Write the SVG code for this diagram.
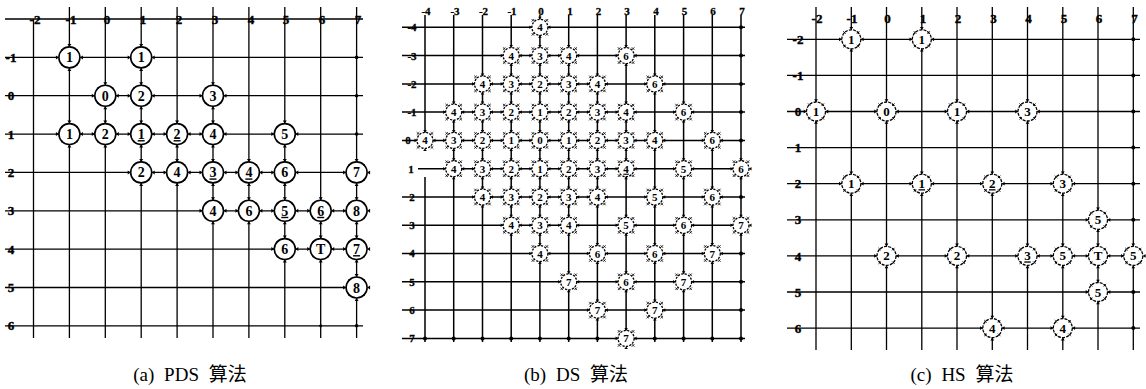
<svg xmlns="http://www.w3.org/2000/svg" width="1146" height="389" viewBox="0 0 1146 389">
<style>
.g{stroke:#000;stroke-width:1.3;fill:none}
.gb{stroke:#000;stroke-width:1.5;fill:none}
.dot{fill:#000}
.la{font-family:"Liberation Serif",serif;font-weight:bold;font-size:13px;text-anchor:middle;fill:#000;stroke:#000;stroke-width:0.4}
.lb{font-family:"Liberation Serif",serif;font-weight:bold;font-size:11px;text-anchor:middle;fill:#000;stroke:#000;stroke-width:0.3}
.ta{font-family:"Liberation Serif",serif;font-weight:bold;font-size:14px;text-anchor:middle;fill:#000}
.tb{font-family:"Liberation Serif",serif;font-weight:bold;font-size:11px;text-anchor:middle;fill:#000}
.tc{font-family:"Liberation Serif",serif;font-weight:bold;font-size:13px;text-anchor:middle;fill:#000}
.u{text-decoration:underline}
.cap{font-family:"Liberation Serif","Noto Sans CJK SC",serif;font-size:19px;fill:#000;text-anchor:middle;word-spacing:5px}
</style>
<defs>
<g id="na">
<circle r="10.5" fill="#fff" stroke="#000" stroke-width="1.6"/>
<path d="M-13.5,-2L-10.5,0L-13.5,2ZM13.5,-2L10.5,0L13.5,2ZM-2,-13.5L0,-10.5L2,-13.5ZM-2,13.5L0,10.5L2,13.5Z" fill="#000"/>
<circle cx="7.4" cy="7.4" r="1" fill="#000"/><circle cx="-7.4" cy="7.4" r="1" fill="#000"/><circle cx="7.4" cy="-7.4" r="1" fill="#000"/><circle cx="-7.4" cy="-7.4" r="1" fill="#000"/>
</g>
<g id="nb">
<circle r="8" fill="#fff" stroke="#000" stroke-width="1.3" stroke-dasharray="2.2 1.3"/>
<path d="M-10.5,-1.8L-8,0L-10.5,1.8ZM10.5,-1.8L8,0L10.5,1.8ZM-1.8,-10.5L0,-8L1.8,-10.5ZM-1.8,10.5L0,8L1.8,10.5Z" fill="#000"/>
<path d="M5.7,5.7l2.6,2.6M8.3,5.7l-2.6,2.6M-5.7,5.7l-2.6,2.6M-8.3,5.7l2.6,2.6M5.7,-5.7l2.6,-2.6M8.3,-5.7l-2.6,-2.6M-5.7,-5.7l-2.6,-2.6M-8.3,-5.7l2.6,-2.6" stroke="#000" stroke-width="0.8"/>
</g>
<g id="nc">
<circle r="9.5" fill="#fff" stroke="#000" stroke-width="1.3" stroke-dasharray="3 1.2"/>
<path d="M-12.3,-1.9L-9.5,0L-12.3,1.9ZM12.3,-1.9L9.5,0L12.3,1.9ZM-1.9,-12.3L0,-9.5L1.9,-12.3ZM-1.9,12.3L0,9.5L1.9,12.3Z" fill="#000"/>
<path d="M5.5,5.5l2.6,2.6M8.1,5.5l-2.6,2.6M-5.5,5.5l-2.6,2.6M-8.1,5.5l2.6,2.6M5.5,-5.5l2.6,-2.6M8.1,-5.5l-2.6,-2.6M-5.5,-5.5l-2.6,-2.6M-8.1,-5.5l2.6,-2.6" stroke="#000" stroke-width="0.8"/>
</g>
</defs>
<rect width="1146" height="389" fill="#fff"/>

<g id="connectors">
<path class="g" d="M5,19H363M5,57.4H363M5,95.7H363M5,134.1H363M5,172.4H363M5,210.8H363M5,249.1H363M5,287.5H363M5,325.8H363
M33.5,19V338M69.4,7V338M105.3,7V338M141.2,7V338M177.1,7V338M213,7V338M248.9,7V338M284.8,7V338M320.7,7V338M356.6,7V338"/>
<g class="dot"><circle cx="356.6" cy="57.4" r="1.8"/><circle cx="356.6" cy="95.7" r="1.8"/><circle cx="356.6" cy="134.1" r="1.8"/><circle cx="356.6" cy="325.8" r="1.8"/><circle cx="320.7" cy="325.8" r="1.5"/></g>
<path class="gb" d="M402,27.3H745M402,55.6H745M402,83.9H745M402,112.1H745M402,140.4H745M418,168.7H745M402,197H745M402,225.3H745M402,253.5H745M402,281.8H745M402,310.1H745M402,338.4H745
M425,15V140.4M425,177V342M453.7,15V342M482.5,15V342M511.2,15V342M539.9,15V342M568.7,15V342M597.4,15V342M626.1,15V342M654.8,15V342M683.6,15V342M712.3,15V342M741,15V342"/>
<g class="dot"><circle cx="741" cy="27.3" r="2"/><circle cx="741" cy="55.6" r="2"/><circle cx="741" cy="83.9" r="2"/><circle cx="741" cy="112.1" r="2"/><circle cx="741" cy="140.4" r="2"/><circle cx="741" cy="197" r="2"/><circle cx="741" cy="253.5" r="2"/><circle cx="741" cy="281.8" r="2"/><circle cx="741" cy="310.1" r="2"/><circle cx="741" cy="338.4" r="2"/>
<circle cx="425" cy="338.4" r="2"/><circle cx="453.7" cy="338.4" r="2"/><circle cx="482.5" cy="338.4" r="2"/><circle cx="511.2" cy="338.4" r="2"/><circle cx="539.9" cy="338.4" r="2"/><circle cx="568.7" cy="338.4" r="2"/><circle cx="597.4" cy="338.4" r="2"/><circle cx="654.8" cy="338.4" r="2"/><circle cx="683.6" cy="338.4" r="2"/><circle cx="712.3" cy="338.4" r="2"/></g>
<path class="g" d="M787,39.3H1140M787,75.4H1140M787,111.5H1140M787,147.6H1140M787,183.7H1140M787,219.8H1140M787,255.9H1140M787,292H1140M787,328.1H1140
M816,7V350M851.3,7V350M886.5,7V350M921.8,7V350M957,7V350M992.3,7V350M1027.5,7V350M1062.8,7V350M1098,7V350M1133.3,7V350"/>
<g class="dot"><circle cx="1133.3" cy="39.3" r="2"/><circle cx="1133.3" cy="75.4" r="2"/><circle cx="1133.3" cy="111.5" r="2"/><circle cx="1133.3" cy="147.6" r="2"/><circle cx="1133.3" cy="183.7" r="2"/><circle cx="1133.3" cy="219.8" r="2"/><circle cx="1133.3" cy="292" r="2"/><circle cx="1133.3" cy="328.1" r="2"/></g>
</g>

<g id="axis-labels">
<text class="la" x="35" y="24">-2</text><text class="la" x="71" y="24">-1</text><text class="la" x="107" y="24">0</text><text class="la" x="143" y="24">1</text><text class="la" x="179" y="24">2</text><text class="la" x="215" y="24">3</text><text class="la" x="251" y="24">4</text><text class="la" x="286" y="24">5</text><text class="la" x="322" y="24">6</text><text class="la" x="358" y="24">7</text>
<text class="la" x="11" y="62">-1</text><text class="la" x="11" y="100.3">0</text><text class="la" x="11" y="138.7">1</text><text class="la" x="11" y="177">2</text><text class="la" x="11" y="215.4">3</text><text class="la" x="11" y="253.7">4</text><text class="la" x="11" y="292.1">5</text><text class="la" x="11" y="330.4">6</text>
<text class="lb" x="426" y="15">-4</text><text class="lb" x="455" y="15">-3</text><text class="lb" x="483.5" y="15">-2</text><text class="lb" x="512" y="15">-1</text><text class="lb" x="541" y="15">0</text><text class="lb" x="570" y="15">1</text><text class="lb" x="598.5" y="15">2</text><text class="lb" x="627" y="15">3</text><text class="lb" x="656" y="15">4</text><text class="lb" x="684.5" y="15">5</text><text class="lb" x="713" y="15">6</text><text class="lb" x="742" y="15">7</text>
<text class="lb" x="412" y="31.2">-4</text><text class="lb" x="412" y="59.5">-3</text><text class="lb" x="412" y="87.8">-2</text><text class="lb" x="412" y="116">-1</text><text class="lb" x="408" y="144.3">0</text><text class="lb" x="411" y="172.6">1</text><text class="lb" x="412" y="200.9">2</text><text class="lb" x="412" y="229.2">3</text><text class="lb" x="412" y="257.4">4</text><text class="lb" x="412" y="285.7">5</text><text class="lb" x="412" y="314">6</text><text class="lb" x="412" y="342.3">7</text>
<text class="la" x="817" y="23">-2</text><text class="la" x="852" y="23">-1</text><text class="la" x="887.5" y="23">0</text><text class="la" x="923" y="23">1</text><text class="la" x="958" y="23">2</text><text class="la" x="993.5" y="23">3</text><text class="la" x="1028.5" y="23">4</text><text class="la" x="1064" y="23">5</text><text class="la" x="1099" y="23">6</text><text class="la" x="1134.5" y="23">7</text>
<text class="la" x="798" y="43.9">-2</text><text class="la" x="798" y="80">-1</text><text class="la" x="798" y="116.1">0</text><text class="la" x="798" y="152.2">1</text><text class="la" x="798" y="188.3">2</text><text class="la" x="798" y="224.4">3</text><text class="la" x="798" y="260.5">4</text><text class="la" x="798" y="296.6">5</text><text class="la" x="798" y="332.7">6</text>
</g>

<g id="a1"><use href="#na" x="69.4" y="57.4"/><text class="ta" x="69.4" y="62.4">1</text></g>
<g id="a2"><use href="#na" x="141.2" y="57.4"/><text class="ta" x="141.2" y="62.4">1</text></g>
<g id="a3"><use href="#na" x="105.3" y="95.7"/><text class="ta" x="105.3" y="100.7">0</text></g>
<g id="a4"><use href="#na" x="141.2" y="95.7"/><text class="ta" x="141.2" y="100.7">2</text></g>
<g id="a5"><use href="#na" x="213" y="95.7"/><text class="ta" x="213" y="100.7">3</text></g>
<g id="a6"><use href="#na" x="69.4" y="134.1"/><text class="ta" x="69.4" y="139.1">1</text></g>
<g id="a7"><use href="#na" x="105.3" y="134.1"/><text class="ta" x="105.3" y="139.1">2</text></g>
<g id="a8"><use href="#na" x="141.2" y="134.1"/><text class="ta u" x="141.2" y="139.1">1</text></g>
<g id="a9"><use href="#na" x="177.1" y="134.1"/><text class="ta u" x="177.1" y="139.1">2</text></g>
<g id="a10"><use href="#na" x="213" y="134.1"/><text class="ta" x="213" y="139.1">4</text></g>
<g id="a11"><use href="#na" x="284.8" y="134.1"/><text class="ta" x="284.8" y="139.1">5</text></g>
<g id="a12"><use href="#na" x="141.2" y="172.4"/><text class="ta" x="141.2" y="177.4">2</text></g>
<g id="a13"><use href="#na" x="177.1" y="172.4"/><text class="ta" x="177.1" y="177.4">4</text></g>
<g id="a14"><use href="#na" x="213" y="172.4"/><text class="ta u" x="213" y="177.4">3</text></g>
<g id="a15"><use href="#na" x="248.9" y="172.4"/><text class="ta u" x="248.9" y="177.4">4</text></g>
<g id="a16"><use href="#na" x="284.8" y="172.4"/><text class="ta" x="284.8" y="177.4">6</text></g>
<g id="a17"><use href="#na" x="356.6" y="172.4"/><text class="ta" x="356.6" y="177.4">7</text></g>
<g id="a18"><use href="#na" x="213" y="210.8"/><text class="ta" x="213" y="215.8">4</text></g>
<g id="a19"><use href="#na" x="248.9" y="210.8"/><text class="ta" x="248.9" y="215.8">6</text></g>
<g id="a20"><use href="#na" x="284.8" y="210.8"/><text class="ta u" x="284.8" y="215.8">5</text></g>
<g id="a21"><use href="#na" x="320.7" y="210.8"/><text class="ta u" x="320.7" y="215.8">6</text></g>
<g id="a22"><use href="#na" x="356.6" y="210.8"/><text class="ta" x="356.6" y="215.8">8</text></g>
<g id="a23"><use href="#na" x="284.8" y="249.1"/><text class="ta" x="284.8" y="254.1">6</text></g>
<g id="a24"><use href="#na" x="320.7" y="249.1"/><text class="ta" x="320.7" y="254.1">T</text></g>
<g id="a25"><use href="#na" x="356.6" y="249.1"/><text class="ta u" x="356.6" y="254.1">7</text></g>
<g id="a26"><use href="#na" x="356.6" y="287.5"/><text class="ta" x="356.6" y="292.5">8</text></g>

<g id="b1"><use href="#nb" x="539.9" y="27.3"/><text class="tb" x="539.9" y="31.3">4</text></g>
<g id="b2"><use href="#nb" x="511.2" y="55.6"/><text class="tb" x="511.2" y="59.6">4</text></g>
<g id="b3"><use href="#nb" x="539.9" y="55.6"/><text class="tb" x="539.9" y="59.6">3</text></g>
<g id="b4"><use href="#nb" x="568.7" y="55.6"/><text class="tb" x="568.7" y="59.6">4</text></g>
<g id="b5"><use href="#nb" x="626.1" y="55.6"/><text class="tb" x="626.1" y="59.6">6</text></g>
<g id="b6"><use href="#nb" x="482.5" y="83.9"/><text class="tb" x="482.5" y="87.9">4</text></g>
<g id="b7"><use href="#nb" x="511.2" y="83.9"/><text class="tb" x="511.2" y="87.9">3</text></g>
<g id="b8"><use href="#nb" x="539.9" y="83.9"/><text class="tb" x="539.9" y="87.9">2</text></g>
<g id="b9"><use href="#nb" x="568.7" y="83.9"/><text class="tb" x="568.7" y="87.9">3</text></g>
<g id="b10"><use href="#nb" x="597.4" y="83.9"/><text class="tb" x="597.4" y="87.9">4</text></g>
<g id="b11"><use href="#nb" x="654.8" y="83.9"/><text class="tb" x="654.8" y="87.9">6</text></g>
<g id="b12"><use href="#nb" x="453.7" y="112.1"/><text class="tb" x="453.7" y="116.1">4</text></g>
<g id="b13"><use href="#nb" x="482.5" y="112.1"/><text class="tb" x="482.5" y="116.1">3</text></g>
<g id="b14"><use href="#nb" x="511.2" y="112.1"/><text class="tb" x="511.2" y="116.1">2</text></g>
<g id="b15"><use href="#nb" x="539.9" y="112.1"/><text class="tb" x="539.9" y="116.1">1</text></g>
<g id="b16"><use href="#nb" x="568.7" y="112.1"/><text class="tb" x="568.7" y="116.1">2</text></g>
<g id="b17"><use href="#nb" x="597.4" y="112.1"/><text class="tb" x="597.4" y="116.1">3</text></g>
<g id="b18"><use href="#nb" x="626.1" y="112.1"/><text class="tb" x="626.1" y="116.1">4</text></g>
<g id="b19"><use href="#nb" x="683.6" y="112.1"/><text class="tb" x="683.6" y="116.1">6</text></g>
<g id="b20"><use href="#nb" x="425" y="140.4"/><text class="tb" x="425" y="144.4">4</text></g>
<g id="b21"><use href="#nb" x="453.7" y="140.4"/><text class="tb" x="453.7" y="144.4">3</text></g>
<g id="b22"><use href="#nb" x="482.5" y="140.4"/><text class="tb" x="482.5" y="144.4">2</text></g>
<g id="b23"><use href="#nb" x="511.2" y="140.4"/><text class="tb" x="511.2" y="144.4">1</text></g>
<g id="b24"><use href="#nb" x="539.9" y="140.4"/><text class="tb" x="539.9" y="144.4">0</text></g>
<g id="b25"><use href="#nb" x="568.7" y="140.4"/><text class="tb" x="568.7" y="144.4">1</text></g>
<g id="b26"><use href="#nb" x="597.4" y="140.4"/><text class="tb" x="597.4" y="144.4">2</text></g>
<g id="b27"><use href="#nb" x="626.1" y="140.4"/><text class="tb" x="626.1" y="144.4">3</text></g>
<g id="b28"><use href="#nb" x="654.8" y="140.4"/><text class="tb" x="654.8" y="144.4">4</text></g>
<g id="b29"><use href="#nb" x="712.3" y="140.4"/><text class="tb" x="712.3" y="144.4">6</text></g>
<g id="b30"><use href="#nb" x="453.7" y="168.7"/><text class="tb" x="453.7" y="172.7">4</text></g>
<g id="b31"><use href="#nb" x="482.5" y="168.7"/><text class="tb" x="482.5" y="172.7">3</text></g>
<g id="b32"><use href="#nb" x="511.2" y="168.7"/><text class="tb" x="511.2" y="172.7">2</text></g>
<g id="b33"><use href="#nb" x="539.9" y="168.7"/><text class="tb" x="539.9" y="172.7">1</text></g>
<g id="b34"><use href="#nb" x="568.7" y="168.7"/><text class="tb" x="568.7" y="172.7">2</text></g>
<g id="b35"><use href="#nb" x="597.4" y="168.7"/><text class="tb" x="597.4" y="172.7">3</text></g>
<g id="b36"><use href="#nb" x="626.1" y="168.7"/><text class="tb u" x="626.1" y="172.7">4</text></g>
<g id="b37"><use href="#nb" x="683.6" y="168.7"/><text class="tb" x="683.6" y="172.7">5</text></g>
<g id="b38"><use href="#nb" x="741" y="168.7"/><text class="tb" x="741" y="172.7">6</text></g>
<g id="b39"><use href="#nb" x="482.5" y="197"/><text class="tb" x="482.5" y="201">4</text></g>
<g id="b40"><use href="#nb" x="511.2" y="197"/><text class="tb" x="511.2" y="201">3</text></g>
<g id="b41"><use href="#nb" x="539.9" y="197"/><text class="tb" x="539.9" y="201">2</text></g>
<g id="b42"><use href="#nb" x="568.7" y="197"/><text class="tb" x="568.7" y="201">3</text></g>
<g id="b43"><use href="#nb" x="597.4" y="197"/><text class="tb" x="597.4" y="201">4</text></g>
<g id="b44"><use href="#nb" x="654.8" y="197"/><text class="tb" x="654.8" y="201">5</text></g>
<g id="b45"><use href="#nb" x="712.3" y="197"/><text class="tb" x="712.3" y="201">6</text></g>
<g id="b46"><use href="#nb" x="511.2" y="225.3"/><text class="tb" x="511.2" y="229.3">4</text></g>
<g id="b47"><use href="#nb" x="539.9" y="225.3"/><text class="tb" x="539.9" y="229.3">3</text></g>
<g id="b48"><use href="#nb" x="568.7" y="225.3"/><text class="tb" x="568.7" y="229.3">4</text></g>
<g id="b49"><use href="#nb" x="626.1" y="225.3"/><text class="tb" x="626.1" y="229.3">5</text></g>
<g id="b50"><use href="#nb" x="683.6" y="225.3"/><text class="tb" x="683.6" y="229.3">6</text></g>
<g id="b51"><use href="#nb" x="741" y="225.3"/><text class="tb" x="741" y="229.3">7</text></g>
<g id="b52"><use href="#nb" x="539.9" y="253.5"/><text class="tb" x="539.9" y="257.5">4</text></g>
<g id="b53"><use href="#nb" x="597.4" y="253.5"/><text class="tb" x="597.4" y="257.5">6</text></g>
<g id="b54"><use href="#nb" x="654.8" y="253.5"/><text class="tb" x="654.8" y="257.5">6</text></g>
<g id="b55"><use href="#nb" x="712.3" y="253.5"/><text class="tb" x="712.3" y="257.5">7</text></g>
<g id="b56"><use href="#nb" x="568.7" y="281.8"/><text class="tb" x="568.7" y="285.8">7</text></g>
<g id="b57"><use href="#nb" x="626.1" y="281.8"/><text class="tb" x="626.1" y="285.8">6</text></g>
<g id="b58"><use href="#nb" x="683.6" y="281.8"/><text class="tb" x="683.6" y="285.8">7</text></g>
<g id="b59"><use href="#nb" x="597.4" y="310.1"/><text class="tb" x="597.4" y="314.1">7</text></g>
<g id="b60"><use href="#nb" x="654.8" y="310.1"/><text class="tb" x="654.8" y="314.1">7</text></g>
<g id="b61"><use href="#nb" x="626.1" y="338.4"/><text class="tb" x="626.1" y="342.4">7</text></g>

<g id="c1"><use href="#nc" x="851.3" y="39.3"/><text class="tc" x="851.3" y="43.8">1</text></g>
<g id="c2"><use href="#nc" x="921.8" y="39.3"/><text class="tc" x="921.8" y="43.8">1</text></g>
<g id="c3"><use href="#nc" x="816" y="111.5"/><text class="tc" x="816" y="116">1</text></g>
<g id="c4"><use href="#nc" x="886.5" y="111.5"/><text class="tc" x="886.5" y="116">0</text></g>
<g id="c5"><use href="#nc" x="957" y="111.5"/><text class="tc" x="957" y="116">1</text></g>
<g id="c6"><use href="#nc" x="1027.5" y="111.5"/><text class="tc" x="1027.5" y="116">3</text></g>
<g id="c7"><use href="#nc" x="851.3" y="183.7"/><text class="tc" x="851.3" y="188.2">1</text></g>
<g id="c8"><use href="#nc" x="921.8" y="183.7"/><text class="tc u" x="921.8" y="188.2">1</text></g>
<g id="c9"><use href="#nc" x="992.3" y="183.7"/><text class="tc u" x="992.3" y="188.2">2</text></g>
<g id="c10"><use href="#nc" x="1062.8" y="183.7"/><text class="tc" x="1062.8" y="188.2">3</text></g>
<g id="c11"><use href="#nc" x="1098" y="219.8"/><text class="tc" x="1098" y="224.3">5</text></g>
<g id="c12"><use href="#nc" x="886.5" y="255.9"/><text class="tc" x="886.5" y="260.4">2</text></g>
<g id="c13"><use href="#nc" x="957" y="255.9"/><text class="tc" x="957" y="260.4">2</text></g>
<g id="c14"><use href="#nc" x="1027.5" y="255.9"/><text class="tc u" x="1027.5" y="260.4">3</text></g>
<g id="c15"><use href="#nc" x="1062.8" y="255.9"/><text class="tc" x="1062.8" y="260.4">5</text></g>
<g id="c16"><use href="#nc" x="1098" y="255.9"/><text class="tc" x="1098" y="260.4">T</text></g>
<g id="c17"><use href="#nc" x="1133.3" y="255.9"/><text class="tc" x="1133.3" y="260.4">5</text></g>
<g id="c18"><use href="#nc" x="1098" y="292"/><text class="tc" x="1098" y="296.5">5</text></g>
<g id="c19"><use href="#nc" x="992.3" y="328.1"/><text class="tc" x="992.3" y="332.6">4</text></g>
<g id="c20"><use href="#nc" x="1062.8" y="328.1"/><text class="tc" x="1062.8" y="332.6">4</text></g>

<g id="captions">
<text class="cap" x="190" y="381">(a) PDS 算法</text>
<text class="cap" x="576" y="381">(b) DS 算法</text>
<text class="cap" x="962" y="381">(c) HS 算法</text>
</g>
</svg>
